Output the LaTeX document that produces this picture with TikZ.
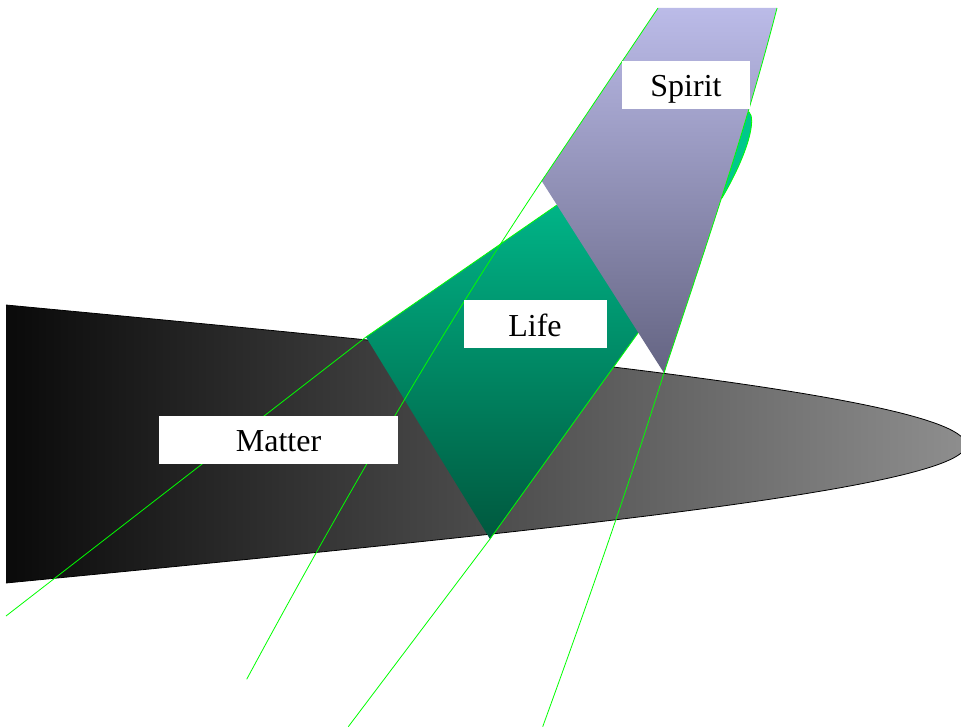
\documentclass[tikz,border=0pt]{standalone}
\usepackage{fontspec}
\setmainfont{Liberation Serif}
\definecolor{matterL}{RGB}{10,10,10}
\definecolor{matterR}{RGB}{142,142,142}
\definecolor{lifeTop}{RGB}{0,180,135}
\definecolor{lifeBot}{RGB}{0,88,62}
\definecolor{spiritTop}{RGB}{187,187,232}
\definecolor{spiritBot}{RGB}{100,100,130}
\definecolor{sliverc}{RGB}{0,200,140}
\begin{document}
\begin{tikzpicture}[x=1pt, y=-1pt,
  ray/.style={green, line width=0.8pt},
  tag/.style={fill=white, inner xsep=0pt, inner ysep=4pt, text height=32pt, text depth=8pt, font=\fontsize{32}{38}\selectfont}]
  \useasboundingbox (0,0) rectangle (961,727);
  \coordinate (lifeL) at (366,337);
  \coordinate (lifeT) at (557,205);
  \coordinate (lifeR) at (638,333);
  \coordinate (lifeB) at (490,539);
  \coordinate (spTL) at (658,8);
  \coordinate (spTR) at (777,8);
  \coordinate (spB) at (664,373);
  \coordinate (spL) at (541.7,181);
  \shade[left color=matterL, right color=matterR] (6,305) .. controls (460,348) and (966,395) .. (966,445) .. controls (966,490) and (500,535) .. (6,583) -- cycle;
  \draw[line width=0.8pt] (6,305) .. controls (460,348) and (966,395) .. (966,445) .. controls (966,490) and (500,535) .. (6,583);
  \shade[top color=lifeTop, bottom color=lifeBot] (lifeL) -- (lifeT) -- (575,215) -- (650,330) -- (lifeR) -- (lifeB) -- cycle;
  \filldraw[fill=sliverc, draw=green, line width=0.8pt] (749,112) .. controls (756,118) and (750,150) .. (722,198) -- (715,198) -- (740,112) -- cycle;
  \shade[top color=spiritTop, bottom color=spiritBot] (spTL) -- (spTR) .. controls (746,129) and (704,252) .. (spB) -- (spL) -- cycle;
  \draw[ray] (6,616) -- (lifeL) -- (lifeT);
  \draw[ray] (246.7,679.3) .. controls (344.7,497.3) and (443.7,328) .. (spL) -- (spTL);
  \draw[ray] (348.3,726.7) -- (lifeB) -- (lifeR);
  \draw[ray] (542.7,726.7) .. controls (583.7,613.7) and (624,500) .. (spB) .. controls (704,252) and (746,129) .. (spTR);
  \node[tag, minimum width=128pt] (spirit) at (686,85) {Spirit};
  \node[tag, minimum width=143pt] (life) at (535,324) {Life};
  \node[tag, minimum width=239pt] (matter) at (278.5,439.5) {Matter};
\end{tikzpicture}
\end{document}
